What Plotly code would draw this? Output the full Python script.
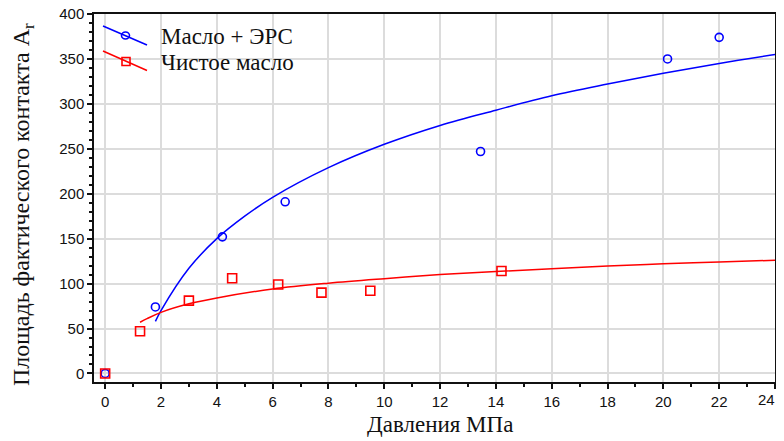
import plotly.graph_objects as go

# ---- data ----
ers_x = [0, 1.8, 4.2, 6.45, 13.45, 20.15, 22.0]
ers_y = [0, 74, 152, 191, 247, 350, 374]

oil_x = [0, 1.25, 3.0, 4.55, 6.2, 7.75, 9.5, 14.2]
oil_y = [0, 47, 81, 106, 99, 90, 92, 114]

# fitted trend curves
ers_fit_x = [1.8, 2, 3, 4, 5, 6, 8, 10, 12, 14, 16, 18, 20, 22, 24]
ers_fit_y = [58, 70, 117, 150, 175, 196, 229, 255, 276, 293, 309, 322, 334, 345, 355]

oil_fit_x = [1.25, 1.5, 2, 3, 4, 6, 8, 10, 12, 14, 16, 18, 20, 22, 24]
oil_fit_y = [57, 61, 68, 77.5, 84, 94, 100.5, 105.5, 110, 113.5, 116.5, 119.5, 122, 124, 126]

x_ticks = list(range(0, 25, 2))
y_ticks = list(range(0, 401, 50))

series_names = ["Масло + ЭРС", "Чистое масло"]
x_title = "Давления МПа"
y_title = "Площадь фактического контакта A<sub>r</sub>"

BLUE = "#0000ff"
RED = "#ff0000"
SERIF = "Liberation Serif, Times New Roman, serif"
SANS = "Liberation Sans, Arial, sans-serif"

fig = go.Figure()

fig.add_trace(go.Scatter(x=ers_fit_x, y=ers_fit_y, mode="lines", line=dict(color=BLUE, width=1.5, shape="spline"),
                         showlegend=False, hoverinfo="skip"))
fig.add_trace(go.Scatter(x=oil_fit_x, y=oil_fit_y, mode="lines", line=dict(color=RED, width=1.5, shape="spline"),
                         showlegend=False, hoverinfo="skip"))
fig.add_trace(go.Scatter(x=ers_x, y=ers_y, mode="markers", name=series_names[0],
                         marker=dict(symbol="circle-open", size=8, color=BLUE, line=dict(width=1.6)),
                         showlegend=False))
fig.add_trace(go.Scatter(x=oil_x, y=oil_y, mode="markers", name=series_names[1],
                         marker=dict(symbol="square-open", size=9, color=RED, line=dict(width=1.6)),
                         showlegend=False))

# plot area geometry in page pixels (page has an 8px body margin)
OFF = 8
L, R, T, B = 94, 775, 14, 382
W, H = 784 - OFF, 441 - OFF


def px(xp):
    return (xp - L) / (R - L)


def py(yp):
    return (B - yp) / (B - T)


shapes = []
# legend glyphs (Statistica-style diagonal)
shapes.append(dict(type="line", xref="paper", yref="paper", x0=px(103), y0=py(26), x1=px(147), y1=py(45),
                   line=dict(color=BLUE, width=1.5)))
shapes.append(dict(type="circle", xref="paper", yref="paper", xsizemode="pixel", ysizemode="pixel",
                   xanchor=px(125.5), yanchor=py(35.5), x0=-4, x1=4, y0=-3.5, y1=3.5,
                   line=dict(color=BLUE, width=1.6)))
shapes.append(dict(type="line", xref="paper", yref="paper", x0=px(103), y0=py(51), x1=px(147), y1=py(70.5),
                   line=dict(color=RED, width=1.5)))
shapes.append(dict(type="rect", xref="paper", yref="paper", xsizemode="pixel", ysizemode="pixel",
                   xanchor=px(126), yanchor=py(61.5), x0=-4, x1=4, y0=-4, y1=4,
                   line=dict(color=RED, width=1.6)))

# last x tick label would be clipped at the right edge, so it is drawn right-aligned
x_ticktext = [str(v) for v in x_ticks[:-1]] + [""]

annotations = [
    dict(text=series_names[0], xref="paper", yref="paper", x=px(159), y=py(36), xanchor="left", yanchor="middle",
         showarrow=False, font=dict(family=SERIF, size=23, color="#111")),
    dict(text=series_names[1], xref="paper", yref="paper", x=px(159), y=py(62), xanchor="left", yanchor="middle",
         showarrow=False, font=dict(family=SERIF, size=23, color="#111")),
    dict(text=x_title, xref="paper", yref="paper", x=px(440), y=py(424), xanchor="center", yanchor="middle",
         showarrow=False, font=dict(family=SERIF, size=23, color="#111")),
    dict(text=y_title, xref="paper", yref="paper", x=px(23), y=py(205), xanchor="center", yanchor="middle",
         textangle=-90, showarrow=False, font=dict(family=SERIF, size=24, color="#111")),
    dict(text=str(x_ticks[-1]), xref="paper", yref="paper", x=px(776), y=py(399.5), xanchor="right",
         yanchor="middle", showarrow=False, borderpad=0, font=dict(family=SANS, size=15, color="#111")),
]

fig.update_layout(
    width=W, height=H,
    margin=dict(l=L - OFF, r=W - (R - OFF), t=T - OFF, b=H - (B - OFF), autoexpand=False),
    paper_bgcolor="white", plot_bgcolor="white",
    showlegend=False,
    shapes=shapes,
    annotations=annotations,
    xaxis=dict(range=[-0.4, 24], tickvals=x_ticks, ticktext=x_ticktext, automargin=False,
               ticklabeloverflow="allow",
               showgrid=True, gridcolor="#dcdcdc", gridwidth=2, zeroline=False,
               showline=True, linecolor="#111", linewidth=1.5, mirror=True,
               ticks="outside", ticklen=5, tickcolor="#111", tickwidth=1.5,
               minor=dict(dtick=1, tick0=0, ticks="outside", ticklen=3, tickcolor="#111", showgrid=False),
               tickfont=dict(family=SANS, size=15, color="#111")),
    yaxis=dict(range=[-9.5, 400], tickvals=y_ticks, ticktext=[str(v) for v in y_ticks], automargin=False,
               ticklabeloverflow="allow",
               showgrid=True, gridcolor="#dcdcdc", gridwidth=2, zeroline=False,
               showline=True, linecolor="#111", linewidth=1.5, mirror=True,
               ticks="outside", ticklen=5, tickcolor="#111", tickwidth=1.5,
               minor=dict(dtick=10, tick0=0, ticks="outside", ticklen=3, tickcolor="#111", showgrid=False),
               tickfont=dict(family=SANS, size=15, color="#111")),
)

fig.write_html("out.html")
